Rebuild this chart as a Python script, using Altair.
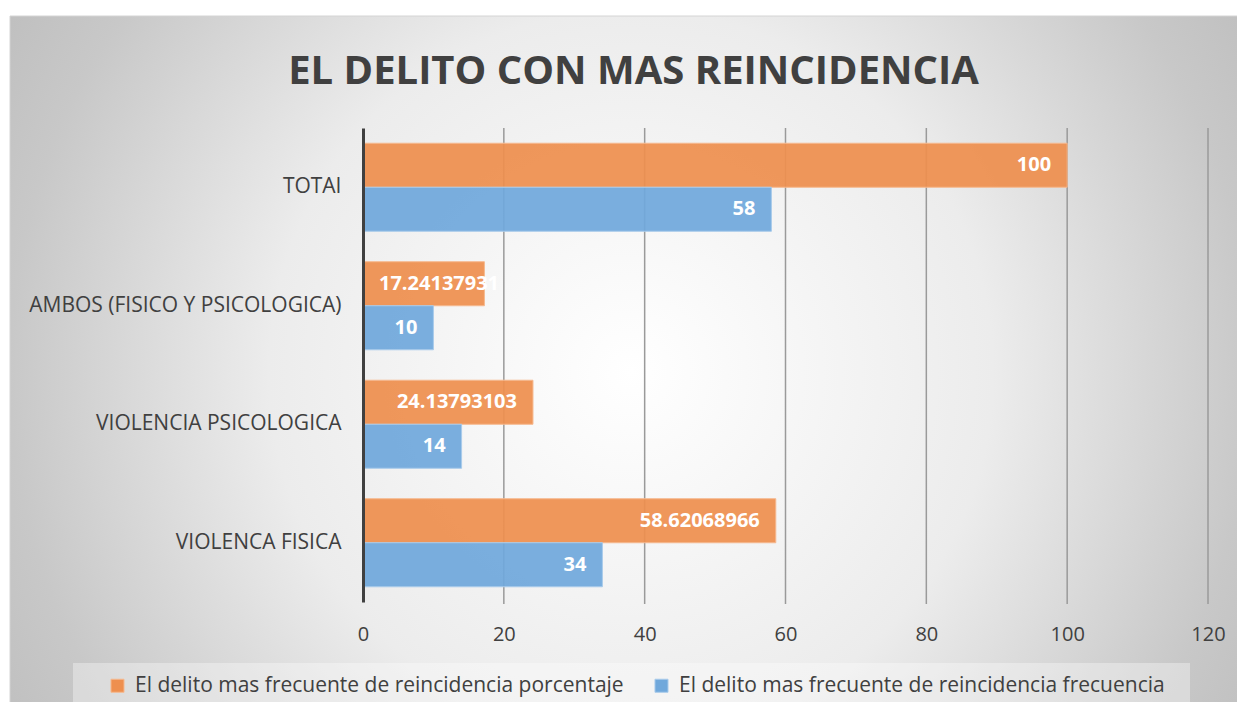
import altair as alt
import pandas as pd

# ---- data ----
categories = ["TOTAI", "AMBOS (FISICO Y PSICOLOGICA)", "VIOLENCIA PSICOLOGICA", "VIOLENCA FISICA "]
porcentaje = [100, 17.24137931, 24.13793103, 58.62068966]
frecuencia = [58, 10, 14, 34]
series_names = [
    "El delito mas frecuente de reincidencia  porcentaje",
    "El delito mas frecuente de reincidencia  frecuencia",
]
series_colors = ["#ee8f4f", "#70a8db"]
series_strokes = ["#f6b98f", "#a9cbeb"]
x_ticks = [0, 20, 40, 60, 80, 100, 120]
grid_ticks = [20, 40, 60, 80, 100, 120]
title_text = "EL DELITO CON MAS REINCIDENCIA"

rows = []
for s_name, vals in zip(series_names, [porcentaje, frecuencia]):
    for c, v in zip(categories, vals):
        rows.append({"cat": c, "series": s_name, "value": v, "label": "%.10g" % v})
df = pd.DataFrame(rows)
grid_df = pd.DataFrame({"tick": grid_ticks})
one = pd.DataFrame({"k": [0]})

W, H = 845, 474
FONT = "Open Sans"
TXT = "#404040"

x_scale = alt.Scale(domain=[0, 120], nice=False, zero=True)
y_enc = alt.Y(
    "cat:N",
    sort=categories,
    scale=alt.Scale(paddingInner=0.257, paddingOuter=0.1285),
    axis=alt.Axis(
        title=None, labelFont=FONT, labelFontSize=21, labelColor=TXT,
        labelPadding=22, ticks=False, domainColor="#404040", domainWidth=3,
        labelLimit=500, zindex=1,
    ),
)
yoff = alt.YOffset("series:N", sort=series_names, scale=alt.Scale(paddingInner=0))

bg = alt.Chart(one).mark_rect(
    color=alt.RadialGradient(
        gradient="radial",
        stops=[
            alt.GradientStop(color="#ffffff", offset=0),
            alt.GradientStop(color="#ececec", offset=0.486),
            alt.GradientStop(color="#c8c8c8", offset=0.834),
            alt.GradientStop(color="#bdbdbd", offset=1),
        ],
        x1=0.5, y1=0.5, r1=0, x2=0.5, y2=0.5, r2=0.6,
    )
).encode(x=alt.value(-353), x2=alt.value(889), y=alt.value(-112), y2=alt.value(600))

frame = alt.Chart(one).mark_rect(fillOpacity=0, stroke="#d4d4d4", strokeWidth=1).encode(
    x=alt.value(-353), x2=alt.value(890), y=alt.value(-112), y2=alt.value(600)
)

legend_box = alt.Chart(one).mark_rect(fill="#ffffff", fillOpacity=0.35).encode(
    x=alt.value(-290), x2=alt.value(827), y=alt.value(535), y2=alt.value(581)
)

grid = alt.Chart(grid_df).mark_rule(color="#9a9a9a", strokeWidth=1.5).encode(
    x=alt.X("tick:Q", scale=x_scale),
    y=alt.value(0),
    y2=alt.value(H + 2),
)

bars = alt.Chart(df).mark_bar(fillOpacity=0.93, strokeWidth=1).encode(
    x=alt.X(
        "value:Q", scale=x_scale,
        axis=alt.Axis(
            title=None, values=x_ticks, grid=False, domain=False, ticks=False,
            labelFlush=False, labelFont=FONT, labelFontSize=20, labelColor=TXT,
            labelPadding=22, zindex=1,
        ),
    ),
    y=y_enc,
    yOffset=yoff,
    color=alt.Color(
        "series:N",
        scale=alt.Scale(domain=series_names, range=series_colors),
        legend=alt.Legend(
            title=None, orient="none", legendX=-256, legendY=547, direction="horizontal",
            symbolType="square", symbolSize=170, symbolStrokeWidth=1,
            labelFont=FONT, labelFontSize=21, labelColor=TXT, labelLimit=700,
            labelOffset=7, columnPadding=21, zindex=1,
        ),
    ),
    stroke=alt.Stroke("series:N", scale=alt.Scale(domain=series_names, range=series_strokes), legend=None),
)

lab_style = dict(color="white", font=FONT, fontSize=20, fontWeight="bold", baseline="middle")

labels_in = alt.Chart(df).transform_filter(
    "datum.value >= 20 || length(datum.label) <= 3"
).mark_text(align="right", dx=-16, **lab_style).encode(
    x=alt.X("value:Q", scale=x_scale), y=alt.Y("cat:N", sort=categories), yOffset=yoff, text="label:N"
)

labels_start = alt.Chart(df).transform_filter(
    "!(datum.value >= 20 || length(datum.label) <= 3)"
).mark_text(align="left", dx=16, **lab_style).encode(
    x=alt.value(0), y=alt.Y("cat:N", sort=categories), yOffset=yoff, text="label:N"
)

chart = alt.layer(bg, frame, legend_box, grid, bars, labels_in, labels_start).properties(
    width=W,
    height=H,
    autosize=alt.AutoSizeParams(type="none"),
    padding={"left": 355, "top": 120, "right": 29, "bottom": 100},
    title=alt.TitleParams(
        text=title_text, font=FONT, fontSize=40, fontWeight="bold", color=TXT,
        anchor="middle", dx=-152, baseline="alphabetic", offset=-108, zindex=1,
    ),
).configure_view(stroke=None)

chart.save("out.html", embed_options={"renderer": "svg", "actions": False})
